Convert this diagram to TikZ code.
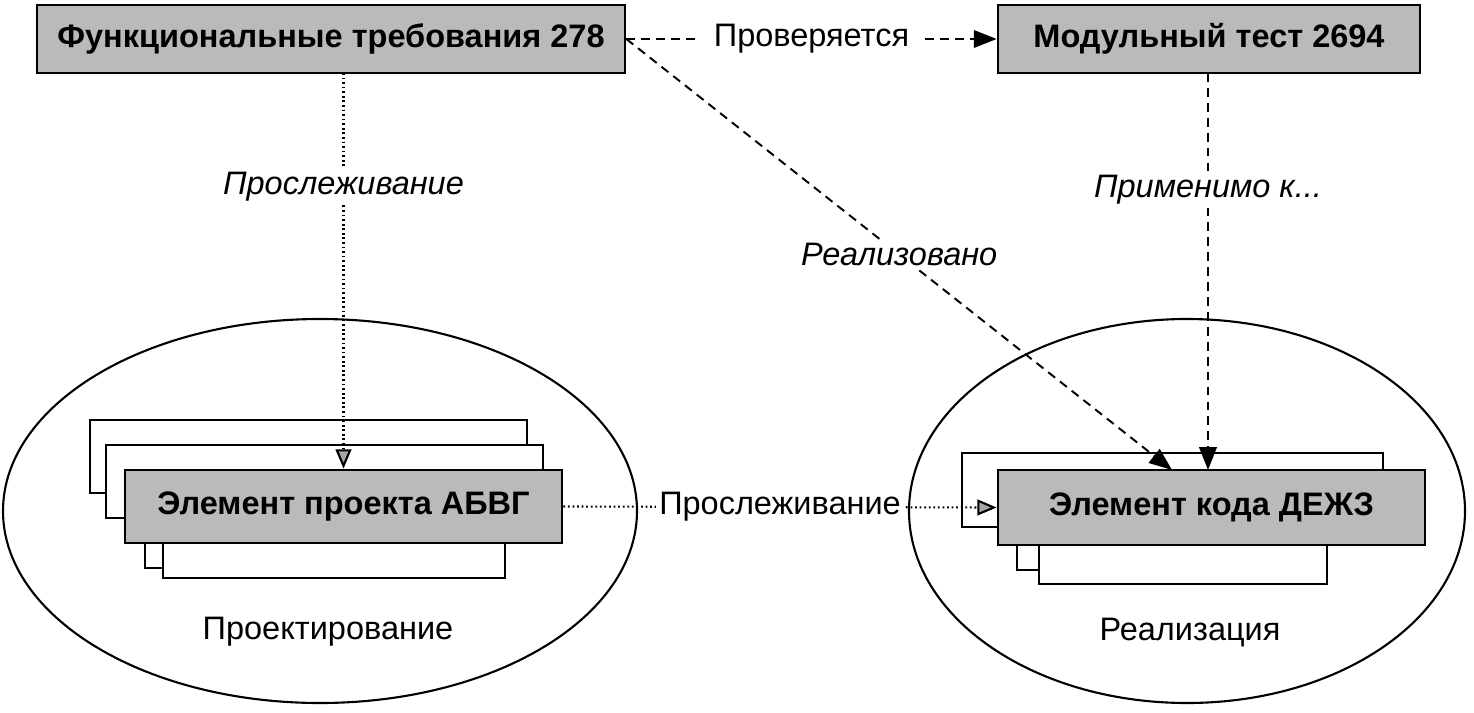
\documentclass[tikz,border=0pt]{standalone}
\usepackage{fontspec}
\setmainfont{Liberation Sans}
\usetikzlibrary{arrows.meta}

\newcommand\diafont{\fontsize{18.5}{22}\selectfont}

\tikzset{
  itembox/.style={draw, line width=1.6pt, fill=black!27, font=\diafont\bfseries, inner sep=0pt},
  backbox/.style={draw, line width=1.4pt, fill=white},
  dashline/.style={line width=1.1pt, dash pattern=on 5pt off 3.5pt},
  dotline/.style={line width=1.2pt, dash pattern=on 1pt off 1.6pt},
  lbl/.style={fill=white, inner sep=2pt},
  ilbl/.style={lbl, font=\diafont\itshape},
  tip/.style={-{Triangle[length=13pt,width=10pt]}},
  greytip/.style={-{Triangle[length=11pt,width=9pt,fill=black!35]}}
}

\begin{document}
\begin{tikzpicture}[x=0.02cm, y=-0.02cm, font=\diafont]
    \useasboundingbox (0,0) rectangle (1474,713);

    % phases
    \draw[line width=1.2pt] (320,511) ellipse [x radius=317, y radius=192];
    \draw[line width=1.2pt] (1187,511) ellipse [x radius=278, y radius=192];
    \node (design lbl) at (328,632) {Проектирование};
    \node (impl lbl) at (1190,633) {Реализация};

    % top boxes
    \node[itembox, minimum width=11.76cm, minimum height=1.36cm] (req) at (331,39) {Функциональные требования 278};
    \node[itembox, minimum width=8.44cm, minimum height=1.36cm] (test) at (1209,39) {Модульный тест 2694};

    % design stack
    \draw[backbox] (90,420) rectangle (527,493);
    \draw[backbox] (106,445) rectangle (543,518);
    \draw[backbox] (145,495) rectangle (487,568);
    \draw[backbox] (163,505) rectangle (505,578);
    \node[itembox, minimum width=8.74cm, minimum height=1.46cm] (design) at (343.5,506.5) {Элемент проекта АБВГ};

    % code stack
    \draw[backbox] (962,453) rectangle (1383,527);
    \draw[backbox] (1017,497) rectangle (1300,570);
    \draw[backbox] (1039,510) rectangle (1327,584);
    \node[itembox, minimum width=8.54cm, minimum height=1.5cm] (code) at (1211.5,507.5) {Элемент кода ДЕЖЗ};

    \coordinate (impl in) at (1172,470);
    \coordinate (appl in) at (1208,470);
    \coordinate (req out) at (343.5,73);
    \coordinate (test out) at (1208,73);

    % links
    \draw[dashline, tip] (req.east) -- node[lbl, inner xsep=9pt] {Проверяется} (test.west);
    \draw[dashline, tip] (req.east) -- node[ilbl] {Реализовано} (impl in);
    \draw[dashline, tip] (test out) -- node[ilbl, pos=0.295] {Применимо к...} (appl in);
    \draw[dotline, greytip] (req out) -- node[ilbl, pos=0.287] {Прослеживание} (design.north);
    \draw[dotline, greytip] (design.east) -- node[lbl] {Прослеживание} (code.west);
\end{tikzpicture}
\end{document}
